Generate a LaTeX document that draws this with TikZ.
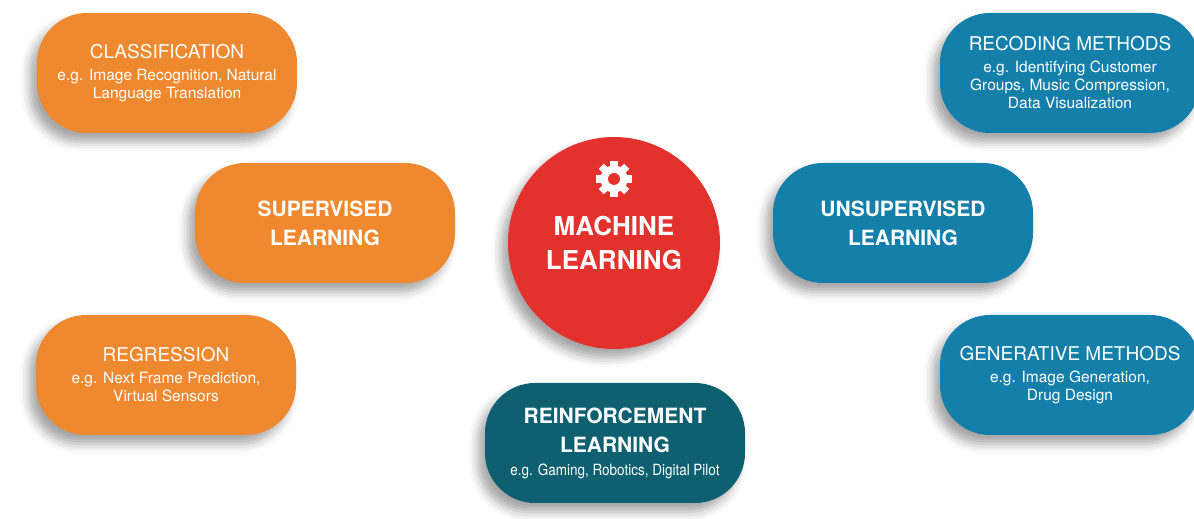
\documentclass[tikz,border=0pt]{standalone}
\usepackage{fontspec}
\setmainfont{TeX Gyre Heros}
\usetikzlibrary{shadows.blur}

\definecolor{supervised}{RGB}{239,137,47}
\definecolor{unsupervised}{RGB}{20,128,170}
\definecolor{reinforcement}{RGB}{14,96,112}
\definecolor{mlred}{RGB}{227,50,45}

\begin{document}
\begin{tikzpicture}[x = 1pt, y = 1pt,
	pill/.style = {rectangle, rounded corners = 50pt, minimum width = 260pt, minimum height = 120pt,
		inner sep = 0pt, text = white, align = center,
		blur shadow = {shadow xshift = -7pt, shadow yshift = -9pt, shadow blur radius = 9pt, shadow opacity = 35}},
	subfont/.style = {font = \fontsize{15.5}{18}\selectfont},
	headfont/.style = {font = \fontsize{21}{29}\bfseries\selectfont}]
	\useasboundingbox (0, 0) rectangle (1194, 519);

	% machine learning in the middle
	\node[circle, fill = mlred, minimum size = 212pt, inner sep = 0pt, text = white, align = center,
		font = \fontsize{26}{34}\bfseries\selectfont,
		blur shadow = {shadow xshift = -7pt, shadow yshift = -9pt, shadow blur radius = 9pt, shadow opacity = 35}]
		(ml) at (614, 276) {MACHINE\\LEARNING};
	\coordinate (gear) at (614, 340);
	\foreach \a in {0, 45, ..., 315}
		\fill[white, shift = {(gear)}, rotate = \a] (-3.6, 10) rectangle (3.6, 18);
	\fill[white] (gear) circle (13.5);
	\fill[mlred] (gear) circle (6);

	% supervised side
	\node[pill, fill = supervised, subfont] (cls) at (167, 446)
		{{\fontsize{19}{22}\selectfont CLASSIFICATION}\\[4pt]e.g. Image Recognition, Natural\\Language Translation};
	\node[pill, fill = supervised, headfont] (sup) at (325, 296) {SUPERVISED\\LEARNING};
	\node[pill, fill = supervised, subfont] (reg) at (166, 144)
		{{\fontsize{19}{22}\selectfont REGRESSION}\\[4pt]e.g. Next Frame Prediction,\\Virtual Sensors};

	% unsupervised side
	\node[pill, fill = unsupervised, subfont] (rec) at (1070, 446)
		{{\fontsize{19}{22}\selectfont RECODING METHODS}\\[4pt]e.g. Identifying Customer\\Groups, Music Compression,\\Data Visualization};
	\node[pill, fill = unsupervised, headfont] (uns) at (903, 296) {UNSUPERVISED\\LEARNING};
	\node[pill, fill = unsupervised, subfont] (gen) at (1070, 144)
		{{\fontsize{19}{22}\selectfont GENERATIVE METHODS}\\[4pt]e.g. Image Generation,\\Drug Design};

	% reinforcement below
	\node[pill, fill = reinforcement, headfont] (rei) at (615, 76)
		{REINFORCEMENT\\LEARNING\\[-6pt]{\fontsize{15.5}{18}\mdseries\selectfont\scalebox{0.87}[1]{e.g. Gaming, Robotics, Digital Pilot}}};
\end{tikzpicture}
\end{document}
